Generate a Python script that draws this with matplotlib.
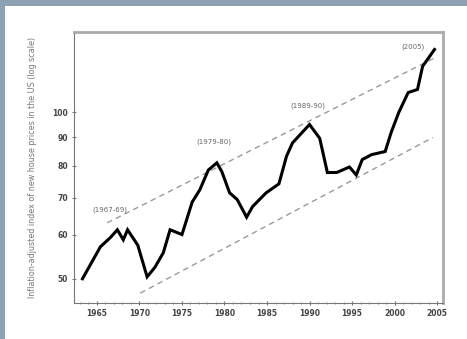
import numpy as np
import matplotlib
matplotlib.use("Agg")
import matplotlib.pyplot as plt
from matplotlib.patches import Rectangle

# house price index, read year by year (log scale)
years = [1963.3, 1965.4, 1966.6, 1967.4, 1968.1, 1968.6, 1969.8, 1970.9, 1971.8,
         1972.8, 1973.6, 1975.0, 1976.2, 1977.1, 1978.1, 1979.1, 1979.7, 1980.6,
         1981.5, 1982.6, 1983.3, 1984.9, 1986.4, 1987.3, 1988.0, 1990.0, 1991.2,
         1992.1, 1993.2, 1994.7, 1995.5, 1996.2, 1997.3, 1998.9, 1999.6, 2000.5,
         2001.6, 2002.7, 2003.3, 2004.7]
index = [50.0, 57.1, 59.4, 61.3, 58.8, 61.3, 57.5, 50.4, 52.4,
         55.7, 61.3, 60.1, 68.8, 72.4, 78.6, 81.0, 78.0, 71.5,
         69.5, 64.6, 67.5, 71.5, 74.2, 83.3, 88.0, 95.0, 89.7,
         77.8, 77.8, 79.6, 77.0, 82.1, 83.8, 84.9, 91.9, 99.9,
         108.5, 109.9, 121.0, 129.8]

# trend channel (upper through the peaks, lower through the troughs)
upper_years = [1966.2, 2005.0]
upper_vals = [63.1, 126.0]
lower_years = [1970.1, 2004.5]
lower_vals = [47.1, 90.0]

peak_labels = ["(1967-69)", "(1979-80)", "(1989-90)", "(2005)"]
peak_x = [1966.5, 1978.8, 1989.8, 2002.2]
peak_y = [66.7, 88.5, 102.8, 131.5]

yticks = [50, 60, 70, 80, 90, 100]
xticks = [1965, 1970, 1975, 1980, 1985, 1990, 1995, 2000, 2005]

fig = plt.figure(figsize=(4.67, 3.39), dpi=100)
fig.patch.set_facecolor("#8fa2b4")
fig.patches.append(Rectangle((5 / 467, 0), 1, 1 - 6 / 339, transform=fig.transFigure,
                             facecolor="white", edgecolor="none", zorder=-1))

ax = fig.add_axes([74 / 467, 1 - 303 / 339, 369 / 467, 271 / 339])
ax.set_facecolor("white")

ax.plot(upper_years, upper_vals, ls=(0, (4, 3)), color="#9a9a9a", lw=1)
ax.plot(lower_years, lower_vals, ls=(0, (4, 3)), color="#9a9a9a", lw=1)
ax.plot(years, index, color="black", lw=2.2, solid_joinstyle="miter")

for t, x, y in zip(peak_labels, peak_x, peak_y):
    ax.text(x, y, t, fontsize=5, color="#666666", ha="center", va="center")

ax.set_yscale("log")
ax.set_ylim(45.2, 139.6)
ax.set_xlim(1962.3, 2005.7)
ax.set_yticks(yticks)
ax.set_yticklabels([str(v) for v in yticks])
ax.yaxis.set_minor_locator(matplotlib.ticker.NullLocator())
ax.set_xticks(xticks)
ax.set_xticks(np.arange(1963, 2006), minor=True)
ax.tick_params(axis="both", which="major", labelsize=5.5, labelcolor="#444444",
               color="#777777", length=3, width=0.8, direction="inout", pad=3)
ax.tick_params(axis="x", which="minor", color="#777777", length=2, width=0.6,
               direction="inout")
for lab in ax.get_xticklabels() + ax.get_yticklabels():
    lab.set_fontweight("bold")

for side in ["top", "right"]:
    ax.spines[side].set_color("#aaaaaa")
    ax.spines[side].set_linewidth(2)
for side in ["left", "bottom"]:
    ax.spines[side].set_color("#777777")
    ax.spines[side].set_linewidth(0.8)

ax.set_ylabel("Inflation-adjusted index of new house prices in the US (log scale)",
              fontsize=5.8, color="#777777", labelpad=11)

fig.savefig("out.png", dpi=100, facecolor=fig.get_facecolor())
